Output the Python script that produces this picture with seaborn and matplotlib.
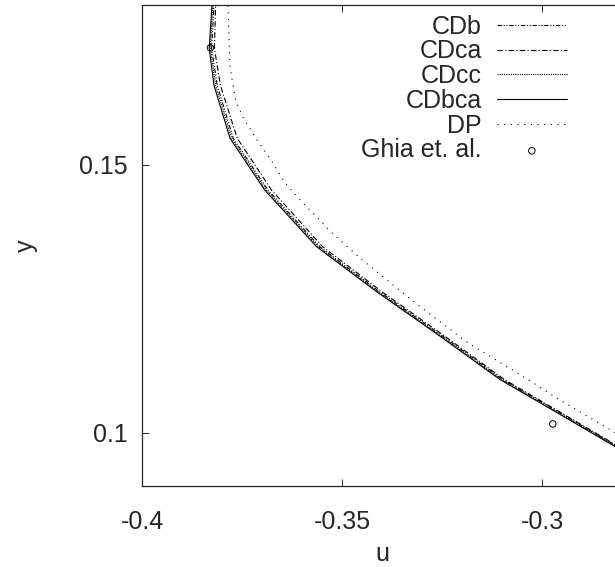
import numpy as np
import pandas as pd
import matplotlib
matplotlib.use("Agg")
import matplotlib.pyplot as plt
import seaborn as sns

# u-velocity profiles near the bottom-left of the cavity
y_cdbca = [0.1850, 0.1799, 0.1718, 0.1649, 0.1550, 0.1453, 0.1347, 0.1263, 0.1180, 0.1099, 0.1036, 0.0974, 0.0940]
u_cdbca = [-0.3810, -0.3825, -0.3832, -0.3820, -0.3780, -0.3693, -0.3563, -0.3413, -0.3255, -0.3105, -0.2960, -0.2818, -0.2735]

y_cdb = [0.1850, 0.1799, 0.1718, 0.1649, 0.1550, 0.1453, 0.1347, 0.1263, 0.1180, 0.1099, 0.1036, 0.0974, 0.0940]
u_cdb = [-0.3806, -0.3820, -0.3826, -0.3812, -0.3772, -0.3685, -0.3555, -0.3406, -0.3248, -0.3098, -0.2953, -0.2812, -0.2729]

y_cdca = [0.1850, 0.1799, 0.1718, 0.1649, 0.1550, 0.1453, 0.1347, 0.1263, 0.1180, 0.1099, 0.1036, 0.0974, 0.0940]
u_cdca = [-0.3803, -0.3816, -0.3819, -0.3804, -0.3762, -0.3676, -0.3548, -0.3400, -0.3243, -0.3094, -0.2950, -0.2809, -0.2726]

y_cdcc = [0.1850, 0.1799, 0.1718, 0.1649, 0.1550, 0.1453, 0.1347, 0.1263, 0.1180, 0.1099, 0.1036, 0.0974, 0.0940]
u_cdcc = [-0.3808, -0.3823, -0.3829, -0.3816, -0.3776, -0.3689, -0.3559, -0.3410, -0.3252, -0.3102, -0.2957, -0.2815, -0.2732]

y_dp = [0.1850, 0.1799, 0.1683, 0.1621, 0.1590, 0.1547, 0.1509, 0.1466, 0.1435, 0.1373, 0.1323, 0.1250, 0.1170, 0.1099, 0.1062, 0.1000, 0.0950]
u_dp = [-0.3780, -0.3785, -0.3780, -0.3766, -0.3748, -0.3713, -0.3677, -0.3642, -0.3605, -0.3525, -0.3450, -0.3330, -0.3190, -0.3035, -0.2958, -0.2818, -0.2700]

# Ghia et al. reference points
y_ghia = [0.1719, 0.1016]
u_ghia = [-0.38289, -0.29730]

x_ticks = [-0.4, -0.35, -0.3]
x_tick_labels = ["-0.4", "-0.35", "-0.3"]
y_ticks = [0.1, 0.15]
y_tick_labels = ["0.1", "0.15"]

sns.set_style("ticks")
plt.rcParams['font.family'] = ['Liberation Sans', 'DejaVu Sans']
plt.rcParams['axes.unicode_minus'] = False

fig = plt.figure(figsize=(6.15, 5.67), dpi=100)
ax = fig.add_axes([142 / 615, 81 / 567, 480 / 615, 481.5 / 567])

lw = 0.8
sns.lineplot(x=u_cdb, y=y_cdb, sort=False, estimator=None, ax=ax, color="black",
             lw=lw, linestyle=(0, (4, 1.5, 1, 1.5, 1, 1.5)), label="CDb")
sns.lineplot(x=u_cdca, y=y_cdca, sort=False, estimator=None, ax=ax, color="black",
             lw=lw, linestyle=(0, (5, 2, 1, 2)), label="CDca")
sns.lineplot(x=u_cdcc, y=y_cdcc, sort=False, estimator=None, ax=ax, color="black",
             lw=lw, linestyle=(0, (1, 1)), label="CDcc")
sns.lineplot(x=u_cdbca, y=y_cdbca, sort=False, estimator=None, ax=ax, color="black",
             lw=lw, linestyle="-", label="CDbca")
sns.lineplot(x=u_dp, y=y_dp, sort=False, estimator=None, ax=ax, color="black",
             lw=lw, linestyle=(0, (1, 5)), label="DP")
sns.scatterplot(x=u_ghia, y=y_ghia, ax=ax, marker="o", s=22, facecolor="none",
                edgecolor="black", linewidth=0.7, label="Ghia et. al.")

ax.set_xlim(-0.4, -0.28)
ax.set_ylim(0.09, 0.18)
ax.set_xticks(x_ticks, x_tick_labels)
ax.set_yticks(y_ticks, y_tick_labels)
ax.tick_params(direction="in", length=5, width=0.7, top=True, right=True,
               labelsize=18)
ax.tick_params(axis="x", pad=17)
ax.tick_params(axis="y", pad=10)
for sp in ax.spines.values():
    sp.set_linewidth(0.9)

ax.set_xlabel("u", fontsize=18, labelpad=6)
ax.set_ylabel("y", fontsize=18, labelpad=30)

leg = ax.legend(loc="upper right", bbox_to_anchor=(0.885, 0.979), frameon=False,
                markerfirst=False, fontsize=18, handlelength=2.8, handletextpad=0.6,
                labelspacing=0.03, borderpad=0, borderaxespad=0)

fig.savefig("out.png", dpi=100)
